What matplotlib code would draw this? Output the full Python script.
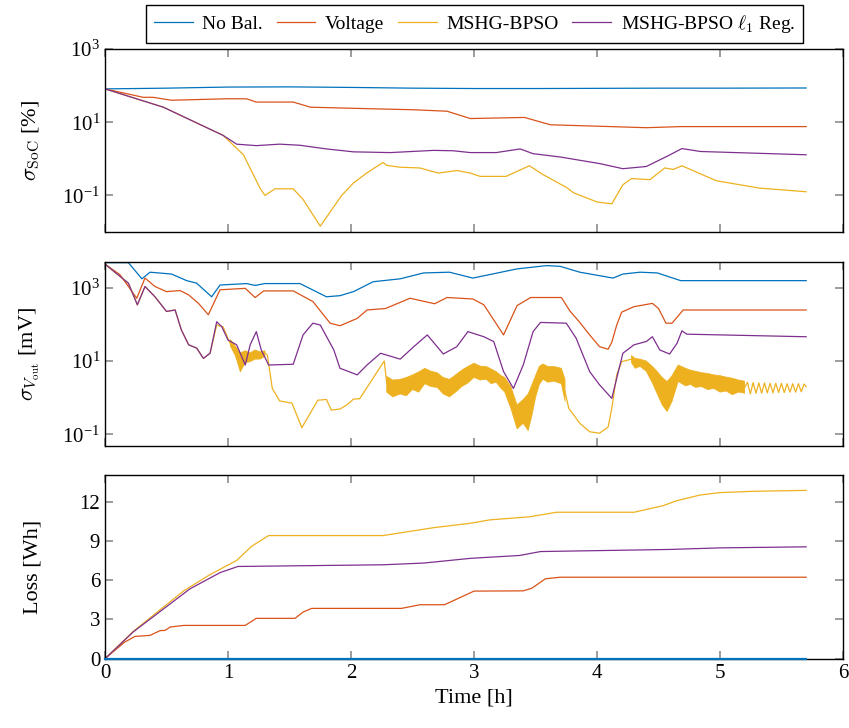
import numpy as np
import matplotlib
matplotlib.use("Agg")
import matplotlib.pyplot as plt
from matplotlib.ticker import FixedLocator, NullLocator, LogFormatterSciNotation

plt.rcParams["font.family"] = ["Liberation Serif", "DejaVu Serif"]
plt.rcParams["mathtext.fontset"] = "cm"

# farby (MATLAB default)
c_blue = "#0072BD"
c_orange = "#D95319"
c_yellow = "#EDB120"
c_purple = "#7E2F8E"

labels = ["No Bal.", "Voltage", "MSHG-BPSO", r"MSHG-BPSO $\ell_1$ Reg."]

# ---- horny graf: sigma SoC [%], hodnoty ako log10 ----
soc_blue_t = [0, 0.5, 1.0, 1.5, 2.0, 2.5, 3.0, 3.5, 4.0, 4.5, 5.0, 5.7]
soc_blue_log = [1.91, 1.93, 1.96, 1.965, 1.95, 1.93, 1.92, 1.92, 1.925, 1.93, 1.93, 1.935]

soc_volt_t = [0, 0.31, 0.39, 0.54, 0.99, 1.15, 1.23, 1.53, 1.67, 2.13, 2.51, 2.78, 2.97,
              3.41, 3.62, 4.40, 4.68, 5.70]
soc_volt_log = [1.91, 1.68, 1.68, 1.60, 1.64, 1.64, 1.55, 1.55, 1.41, 1.37, 1.34, 1.30, 1.10,
                1.13, 0.93, 0.85, 0.88, 0.88]

soc_pso_t = [0, 0.474, 0.96, 1.125, 1.26, 1.30, 1.382, 1.53, 1.61, 1.75, 1.924, 2.02, 2.127,
             2.26, 2.29, 2.40, 2.56, 2.71, 2.86, 2.97, 3.05, 3.26, 3.45, 3.56, 3.75, 3.81,
             4.00, 4.12, 4.21, 4.28, 4.43, 4.55, 4.62, 4.69, 4.97, 5.32, 5.70]
soc_pso_log = [1.91, 1.41, 0.64, 0.11, -0.80, -1.0, -0.82, -0.82, -1.11, -1.84, -1.0, -0.66, -0.39,
               -0.10, -0.18, -0.23, -0.25, -0.39, -0.32, -0.39, -0.48, -0.48, -0.19, -0.43, -0.78, -0.93,
               -1.18, -1.23, -0.71, -0.54, -0.57, -0.25, -0.29, -0.19, -0.60, -0.80, -0.90]

soc_reg_t = [0, 0.474, 0.96, 1.07, 1.23, 1.42, 1.585, 1.80, 2.02, 2.32, 2.67, 2.83, 2.97,
             3.18, 3.375, 3.48, 3.70, 4.02, 4.21, 4.40, 4.57, 4.69, 4.84, 5.70]
soc_reg_log = [1.91, 1.41, 0.64, 0.40, 0.36, 0.40, 0.37, 0.27, 0.19, 0.17, 0.23, 0.22, 0.17,
               0.17, 0.27, 0.14, 0.05, -0.13, -0.27, -0.21, 0.07, 0.28, 0.20, 0.11]

# ---- stredny graf: sigma V_out [mV], hodnoty ako log10 ----
v_blue_t = [0, 0.19, 0.30, 0.366, 0.54, 0.664, 0.745, 0.867, 0.935, 1.15, 1.22, 1.30, 1.585,
            1.80, 1.91, 2.02, 2.18, 2.40, 2.59, 2.80, 2.99, 3.35, 3.59, 3.70, 3.86, 4.13, 4.21,
            4.35, 4.49, 4.68, 5.70]
v_blue_log = [3.68, 3.68, 3.24, 3.42, 3.37, 3.19, 3.12, 2.75, 3.07, 3.11, 3.06, 3.11, 3.11,
              2.75, 2.78, 2.89, 3.16, 3.24, 3.40, 3.42, 3.26, 3.51, 3.60, 3.58, 3.42, 3.26, 3.37,
              3.42, 3.40, 3.19, 3.19]

v_volt_t = [0, 0.122, 0.258, 0.325, 0.406, 0.50, 0.61, 0.68, 0.76, 0.84, 0.935, 1.14, 1.22,
            1.29, 1.53, 1.69, 1.83, 1.91, 2.05, 2.13, 2.28, 2.48, 2.68, 2.78, 2.99, 3.08, 3.24,
            3.35, 3.46, 3.71, 3.78, 3.86, 3.94, 4.02, 4.09, 4.12, 4.16, 4.20, 4.30, 4.45, 4.50,
            4.56, 4.61, 4.70, 5.70]
v_volt_log = [3.64, 3.35, 2.71, 3.26, 3.03, 2.89, 2.92, 2.80, 2.57, 2.26, 2.94, 2.98, 2.73,
              2.91, 2.91, 2.62, 2.03, 1.96, 2.16, 2.39, 2.43, 2.71, 2.56, 2.73, 2.69, 2.53, 1.71,
              2.51, 2.73, 2.73, 2.36, 2.05, 1.71, 1.39, 1.32, 1.51, 1.98, 2.33, 2.48, 2.57, 2.43,
              2.03, 2.03, 2.39, 2.39]

v_reg_t = [0, 0.19, 0.263, 0.325, 0.406, 0.50, 0.57, 0.62, 0.68, 0.745, 0.80, 0.854, 0.908,
           0.95, 1.00, 1.07, 1.14, 1.18, 1.23, 1.27, 1.33, 1.53, 1.61, 1.69, 1.75, 1.86, 1.91,
           1.99, 2.05, 2.13, 2.24, 2.40, 2.51, 2.62, 2.75, 2.86, 2.95, 3.08, 3.16, 3.24, 3.32,
           3.40, 3.48, 3.54, 3.75, 3.83, 3.94, 4.02, 4.12, 4.16, 4.21, 4.30, 4.40, 4.45, 4.51,
           4.59, 4.65, 4.69, 4.73, 5.70]
v_reg_log = [3.64, 3.12, 2.53, 3.03, 2.75, 2.35, 2.39, 1.85, 1.44, 1.35, 1.07, 1.21, 2.07,
             1.93, 1.57, 1.44, 0.89, 1.44, 1.80, 1.30, 0.89, 0.91, 1.71, 2.03, 1.98, 1.30, 0.80,
             0.70, 0.62, 0.89, 1.21, 1.05, 1.39, 1.71, 1.19, 1.39, 1.80, 1.66, 1.53, 0.71, 0.25,
             0.89, 1.80, 2.05, 2.03, 1.62, 0.71, 0.35, -0.02, 0.53, 1.21, 1.44, 1.53, 1.66, 1.30,
             1.19, 1.48, 1.82, 1.73, 1.66]

v_pso_t = [0, 0.19, 0.263, 0.325, 0.406, 0.50, 0.57, 0.62, 0.68, 0.745, 0.80, 0.854, 0.908,
           0.96, 1.01, 1.06, 1.10, 1.12, 1.16, 1.21, 1.25, 1.29, 1.32, 1.36, 1.42, 1.52, 1.60,
           1.73, 1.80, 1.84, 1.91, 1.965, 2.02, 2.07, 2.27, 2.29, 2.35, 2.45, 2.55, 2.63, 2.72,
           2.80, 2.90, 3.02, 3.10, 3.18, 3.25, 3.29, 3.35, 3.40, 3.44, 3.51, 3.56, 3.65, 3.71,
           3.77, 3.86, 3.94, 4.02, 4.09, 4.12, 4.16, 4.20, 4.28, 4.31, 4.40, 4.49, 4.57, 4.61,
           4.66, 4.72, 4.80, 4.90, 5.00, 5.10, 5.20]
v_pso_log = [3.64, 3.12, 2.53, 3.03, 2.75, 2.35, 2.39, 1.85, 1.44, 1.35, 1.07, 1.21, 1.98,
             1.93, 1.53, 1.16, 0.85, 1.10, 1.20, 1.12, 1.20, 1.25, 1.16, 0.25, -0.09, -0.15, -0.82,
             -0.07, -0.05, -0.34, -0.31, -0.20, -0.04, -0.03, 1.00, 0.40, 0.30, 0.27, 0.45, 0.60, 0.45,
             0.25, 0.55, 0.75, 0.65, 0.55, 0.35, 0.20, -0.50, -0.40, -0.30, 0.55, 0.70, 0.65, 0.60,
             -0.29, -0.70, -0.93, -0.97, -0.80, -0.29, 0.62, 0.98, 1.05, 0.95, 0.85, 0.40, 0.05, 0.30,
             0.65, 0.55, 0.50, 0.45, 0.38, 0.30, 0.28]

# sumove pasma (dolna / horna obalka, log10)
band_t = [1.02, 1.06, 1.10, 1.14, 1.18, 1.22, 1.26, 1.30, np.nan,
          2.29, 2.34, 2.40, 2.45, 2.50, 2.55, 2.60, 2.65, 2.70, 2.75, 2.80, 2.85, 2.90, 2.95,
          3.00, 3.05, 3.10, 3.14, 3.18, 3.22, 3.25, 3.30, 3.35, 3.40, 3.44, 3.47, 3.50, 3.53,
          3.56, 3.60, 3.65, 3.71, 3.74, np.nan,
          4.28, 4.31, 4.35, 4.40, 4.45, 4.49, 4.53, 4.57, 4.61, 4.66, 4.72, 4.76, 4.80, 4.85,
          4.90, 4.95, 5.00, 5.05, 5.10, 5.15, 5.20]
band_lo = [1.40, 1.15, 0.70, 0.95, 0.98, 1.05, 1.05, 1.12, np.nan,
           0.15, 0.02, 0.10, 0.05, 0.22, 0.15, 0.38, 0.30, 0.28, 0.10, 0.02, 0.15, 0.30, 0.40,
           0.55, 0.48, 0.50, 0.38, 0.42, 0.25, 0.15, -0.30, -0.85, -0.70, -0.90, -0.50, 0.00, 0.35,
           0.50, 0.42, 0.45, 0.38, -0.10, np.nan,
           0.95, 0.80, 0.85, 0.72, 0.40, 0.10, -0.20, -0.38, -0.10, 0.44, 0.32, 0.36, 0.28, 0.30,
           0.22, 0.25, 0.15, 0.18, 0.08, 0.15, 0.12]
band_hi = [1.58, 1.40, 1.22, 1.28, 1.22, 1.30, 1.25, 1.28, np.nan,
           0.58, 0.48, 0.50, 0.55, 0.62, 0.70, 0.80, 0.72, 0.68, 0.55, 0.50, 0.62, 0.75, 0.85,
           0.94, 0.86, 0.85, 0.78, 0.71, 0.60, 0.55, 0.30, -0.20, -0.05, 0.10, 0.35, 0.60, 0.85,
           0.92, 0.85, 0.85, 0.80, 0.50, np.nan,
           1.15, 1.07, 1.05, 1.00, 0.85, 0.71, 0.55, 0.44, 0.60, 0.89, 0.80, 0.75, 0.72, 0.68,
           0.66, 0.62, 0.60, 0.56, 0.53, 0.48, 0.45]

# pila na konci
tail_t = [5.20, 5.223, 5.246, 5.269, 5.292, 5.315, 5.338, 5.361, 5.384, 5.407, 5.430, 5.453,
          5.476, 5.499, 5.522, 5.545, 5.568, 5.591, 5.614, 5.637, 5.660, 5.683, 5.70]
tail_log = [0.28, 0.42, 0.10, 0.41, 0.12, 0.40, 0.12, 0.40, 0.13, 0.39, 0.13, 0.39,
            0.14, 0.39, 0.14, 0.38, 0.15, 0.38, 0.15, 0.38, 0.16, 0.37, 0.30]

# ---- dolny graf: straty [Wh] ----
loss_blue_t = [0, 5.7]
loss_blue = [0, 0]
loss_volt_t = [0, 0.16, 0.244, 0.366, 0.447, 0.488, 0.53, 0.64, 1.14, 1.23, 1.545, 1.61, 1.68,
               2.41, 2.56, 2.76, 3.00, 3.40, 3.47, 3.58, 3.70, 5.70]
loss_volt = [0, 1.27, 1.70, 1.78, 2.14, 2.16, 2.42, 2.54, 2.54, 3.08, 3.08, 3.56, 3.84,
             3.84, 4.12, 4.12, 5.16, 5.18, 5.38, 6.10, 6.22, 6.22]
loss_pso_t = [0, 0.23, 0.64, 0.85, 1.07, 1.19, 1.33, 2.26, 2.67, 2.97, 3.13, 3.45, 3.67, 4.30,
              4.54, 4.65, 4.84, 5.00, 5.27, 5.70]
loss_pso = [0, 2.09, 5.18, 6.40, 7.50, 8.57, 9.40, 9.40, 10.0, 10.34, 10.6, 10.83, 11.18, 11.18,
            11.69, 12.07, 12.5, 12.68, 12.78, 12.85]
loss_reg_t = [0, 0.23, 0.69, 0.935, 1.08, 2.26, 2.59, 2.97, 3.37, 3.54, 4.59, 5.00, 5.70]
loss_reg = [0, 2.05, 5.33, 6.57, 7.04, 7.17, 7.3, 7.66, 7.88, 8.18, 8.34, 8.46, 8.54]


def p(v):
    return 10.0 ** np.asarray(v, dtype=float)


fig = plt.figure(figsize=(8.49, 7.28), dpi=100)
left, width = 0.1237, 0.8693
ax1 = fig.add_axes([left, 0.6813, width, 0.2514])
ax2 = fig.add_axes([left, 0.3878, width, 0.2519])
ax3 = fig.add_axes([left, 0.0952, width, 0.2519])

lw = 0.9
ax1.plot(soc_blue_t, p(soc_blue_log), color=c_blue, lw=lw, label=labels[0])
ax1.plot(soc_volt_t, p(soc_volt_log), color=c_orange, lw=lw, label=labels[1])
ax1.plot(soc_pso_t, p(soc_pso_log), color=c_yellow, lw=lw, label=labels[2])
ax1.plot(soc_reg_t, p(soc_reg_log), color=c_purple, lw=lw, label=labels[3])

ax2.plot(v_blue_t, p(v_blue_log), color=c_blue, lw=lw)
ax2.plot(v_volt_t, p(v_volt_log), color=c_orange, lw=lw)
ax2.plot(v_pso_t, p(v_pso_log), color=c_yellow, lw=lw)
ax2.fill_between(band_t, p(band_lo), p(band_hi), facecolor=c_yellow, edgecolor=c_yellow,
                 lw=0.5)
ax2.plot(tail_t, p(tail_log), color=c_yellow, lw=lw)
ax2.plot(v_reg_t, p(v_reg_log), color=c_purple, lw=lw)

ax3.plot(loss_blue_t, loss_blue, color=c_blue, lw=1.6, clip_on=False, zorder=3)
ax3.plot(loss_volt_t, loss_volt, color=c_orange, lw=lw)
ax3.plot(loss_pso_t, loss_pso, color=c_yellow, lw=lw)
ax3.plot(loss_reg_t, loss_reg, color=c_purple, lw=lw)

ax1.set_yscale("log")
ax1.set_ylim(1e-2, 1e3)
ax1.yaxis.set_major_locator(FixedLocator([1e-1, 1e1, 1e3]))
ax2.set_yscale("log")
ax2.set_ylim(10 ** -1.31, 10 ** 3.69)
ax2.yaxis.set_major_locator(FixedLocator([1e-1, 1e1, 1e3]))
for ax in (ax1, ax2):
    ax.yaxis.set_major_formatter(LogFormatterSciNotation())
    ax.yaxis.set_minor_locator(NullLocator())
ax3.set_ylim(0, 14)
ax3.set_yticks([0, 3, 6, 9, 12])

for ax in (ax1, ax2, ax3):
    ax.set_xlim(0, 6)
    ax.set_xticks(range(7))
    ax.tick_params(direction="in", top=True, right=True, length=6, width=1.2,
                   color="#8c8c8c", labelsize=15)
    for s in ax.spines.values():
        s.set_linewidth(1.0)
ax1.tick_params(labelbottom=False)
ax2.tick_params(labelbottom=False)

ax1.set_ylabel(r"$\sigma_{\mathrm{SoC}}$ [%]", fontsize=16)
ax2.set_ylabel(r"$\sigma_{V_{\mathrm{out}}}$ [mV]", fontsize=16)
ax3.set_ylabel("Loss [Wh]", fontsize=16)
ax3.set_xlabel("Time [h]", fontsize=16)
for ax in (ax1, ax2, ax3):
    ax.yaxis.set_label_coords(-0.085, 0.5)

fig.legend(loc="center", bbox_to_anchor=(0.559, 0.967), ncol=4, fontsize=14,
           frameon=True, fancybox=False, edgecolor="black", framealpha=1,
           handlelength=2.0, columnspacing=0.7, handletextpad=0.5, borderpad=0.4)

fig.savefig("out.png", dpi=100)
